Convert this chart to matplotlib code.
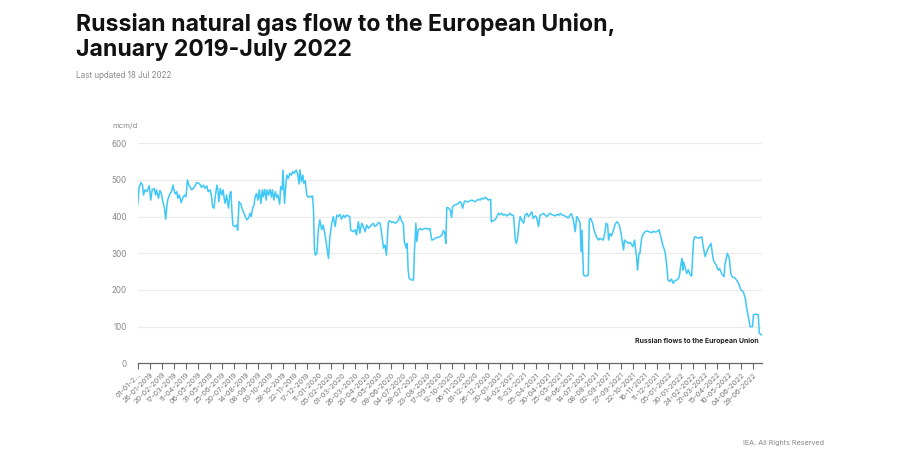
import pandas as pd
import matplotlib
matplotlib.use("Agg")
import matplotlib.pyplot as plt

plt.rcParams["font.family"] = ["Inter", "DejaVu Sans"]

title = "Russian natural gas flow to the European Union,\nJanuary 2019-July 2022"
subtitle = "Last updated 18 Jul 2022"
unit = "mcm/d"
series_name = "Russian flows to the European Union"
credit = "IEA. All Rights Reserved"

start = pd.Timestamp("2019-01-01")

# days since 1 Jan 2019 and flow (mcm/d)
days = [
    0, 3, 7, 10, 12, 15, 19, 22, 24, 27, 30, 34, 37, 39, 43, 46, 49, 52, 55, 58,
    61, 63, 67, 70, 73, 75, 78, 81, 83, 86, 90, 93, 97, 100, 103, 106, 108, 112, 115, 119,
    122, 126, 129, 132, 136, 139, 143, 146, 150, 153, 155, 158, 161, 164, 166, 168, 171, 174, 177, 179,
    181, 184, 188, 191, 193, 195, 197, 201, 205, 207, 210, 214, 217, 220, 223, 226, 229, 233, 235, 238,
    241, 243, 246, 249, 252, 255, 258, 260, 263, 266, 268, 271, 274, 277, 279, 282, 285, 288, 290, 294,
    296, 299, 301, 304, 307, 309, 312, 315, 318, 321, 324, 328, 331, 334, 336, 339, 342, 344, 347, 350,
    353, 357, 360, 362, 364, 366, 368, 371, 374, 377,
    381, 384, 388, 391, 395, 398, 402, 405, 409, 412, 415, 419, 422, 426, 429, 433, 439, 441, 445, 450,
    453, 457, 460, 464, 467, 471, 474, 478, 481, 484, 488, 491, 495, 498, 502, 505, 509, 512, 515, 519,
    522, 526, 529, 533, 536, 540, 543, 547, 550, 552, 556, 558, 560, 562, 567, 571, 573, 576, 578, 581,
    585, 588, 592, 595, 598,
    602, 605, 609, 613, 616, 620, 626, 630, 633, 636, 638, 640, 644, 647, 650, 652, 657, 661, 664, 667,
    670, 673, 676, 678, 682, 685, 689, 692, 696, 699, 702, 705, 709, 712, 716, 719, 723, 726, 729, 731,
    732, 736, 740, 743, 747, 750, 754, 757, 761, 764, 768, 771, 774, 778, 780, 782, 784, 786, 790, 792,
    795, 799, 802, 806, 809, 812, 816, 819, 823, 826, 830, 833, 837, 840, 844, 847, 851, 854, 858, 861,
    865, 868, 872, 875, 878, 881, 885, 888, 891, 895, 898, 902, 906, 909, 912, 916, 918, 920, 923, 927,
    930, 933, 935, 938, 942, 945, 948, 950, 954, 957, 961, 964, 967, 970, 973, 975, 978, 981, 985, 988,
    991, 993, 997, 1001, 1004, 1006, 1008, 1011, 1014, 1016, 1020, 1025, 1029, 1031, 1033, 1035, 1038,
    1040, 1042, 1044, 1048, 1051, 1055, 1058, 1061, 1064, 1068, 1071, 1075, 1080, 1082, 1084, 1087, 1090, 1092, 1095, 1098,
    1102, 1105, 1109, 1112, 1116, 1120, 1122, 1124, 1127, 1129, 1130, 1133, 1137, 1140, 1144, 1147, 1151, 1154, 1158, 1161,
    1165, 1168, 1171, 1175, 1178, 1183, 1187, 1189, 1192, 1195, 1198, 1202, 1205, 1209, 1214, 1216, 1218, 1221, 1225, 1228,
    1231, 1237, 1241, 1244, 1249, 1254, 1258, 1261, 1265, 1268, 1273, 1275, 1279, 1285, 1287, 1292,
]
flow = [
    432, 480, 493, 486, 459, 473, 468, 477, 484, 445, 473, 477, 459, 473, 450, 471, 463, 441, 427, 393,
    436, 450, 463, 468, 486, 473, 462, 468, 450, 459, 438, 450, 459, 454, 500, 486, 482, 473, 477, 484,
    493, 491, 488, 480, 486, 477, 484, 468, 473, 454, 427, 423, 459, 486, 473, 441, 477, 459, 473, 450,
    436, 459, 423, 463, 468, 418, 377, 373, 377, 363, 441, 432, 418, 409, 400, 391, 395, 409, 400, 423,
    432, 454, 463, 445, 473, 436, 473, 454, 474, 445, 473, 459, 474, 453, 473, 445, 468, 453, 459, 434,
    482, 473, 527, 436, 491, 513, 504, 518, 513, 523, 518, 527, 518, 489, 527, 495, 513, 491, 498, 459,
    453, 456, 453, 456, 418, 309, 295, 300, 363, 391,
    364, 377, 350, 323, 286, 345, 382, 400, 373, 404, 400, 406, 393, 404, 398, 404, 400, 364, 359, 364,
    350, 386, 355, 382, 373, 359, 377, 368, 373, 377, 382, 373, 377, 384, 382, 355, 314, 323, 295, 386,
    389, 384, 386, 382, 384, 391, 402, 386, 382, 332, 314, 327, 254, 232, 227, 227, 304, 382, 332, 364,
    368, 364, 366, 368, 368,
    365, 368, 336, 338, 341, 343, 345, 350, 362, 355, 327, 425, 423, 418, 398, 427, 432, 434, 436, 441,
    437, 423, 440, 443, 440, 441, 444, 445, 442, 441, 444, 447, 445, 450, 448, 453, 449, 445, 447, 447,
    386, 389, 391, 398, 409, 405, 409, 404, 406, 402, 405, 409, 404, 404, 373, 335, 327, 336, 382, 400,
    391, 382, 404, 409, 400, 405, 413, 395, 402, 398, 373, 404, 406, 409, 404, 400, 406, 409, 405, 404,
    402, 406, 404, 409, 405, 404, 401, 400, 396, 404, 408, 391, 359, 400, 395, 382, 304, 363, 241, 238,
    238, 241, 391, 395, 382, 363, 352, 345, 336, 341, 338, 336, 355, 382, 378, 336, 354, 347, 363, 377,
    384, 386, 377, 354, 327, 309, 336, 332, 330, 327, 330, 318, 336, 309, 291, 254, 300,
    300, 327, 345, 355, 359, 361, 359, 358, 356, 360, 358, 359, 364, 350, 341, 323, 312, 304, 273, 227,
    223, 230, 218, 225, 227, 232, 241, 263, 286, 254, 277, 264, 245, 255, 241, 238, 336, 345, 343, 341,
    343, 345, 318, 291, 304, 318, 327, 309, 282, 273, 268, 254, 258, 245, 236, 270, 282, 300, 286, 245,
    236, 232, 225, 218, 200, 195, 177, 150, 123, 100, 100, 132, 134, 132, 82, 77,
]

yticks = [0, 100, 200, 300, 400, 500, 600]
tick_dates = pd.date_range(start, periods=52, freq="25D")
tick_labels = [d.strftime("%d-%m-%Y") for d in tick_dates]
tick_labels[0] = "01-01-2..."

dates = start + pd.to_timedelta(days, unit="D")

fig = plt.figure(figsize=(9, 4.5), dpi=100)
ax = fig.add_axes([0.153, 0.1927, 0.6933, 0.4889])

for y in yticks[1:]:
    ax.axhline(y, color="#ebebeb", lw=0.9, zorder=0)
ax.plot(dates, flow, color="#3fc8f7", lw=1.1, zorder=2)

ax.set_ylim(0, 600)
ax.set_xlim(start, start + pd.Timedelta(days=1292))
ax.set_yticks(yticks)
ax.set_xticks(tick_dates)
ax.set_xticklabels(tick_labels, rotation=45, ha="right", rotation_mode="anchor")

for s in ["top", "right", "left"]:
    ax.spines[s].set_visible(False)
ax.spines["bottom"].set_color("#666666")
ax.spines["bottom"].set_linewidth(0.9)
ax.tick_params(axis="x", length=4, width=0.8, color="#666666", labelsize=5.3,
               labelcolor="#777777", pad=2)
ax.tick_params(axis="y", length=0, labelsize=5.8, labelcolor="#888888", pad=8)

fig.text(0.8425, 1 - 341 / 450, series_name, ha="right", va="center",
         fontsize=5, fontweight="bold", color="#222222")

fig.text(76 / 900, 1 - 13 / 450, title, ha="left", va="top", fontsize=16.6,
         fontweight="bold", color="#111111", linespacing=1.2)
fig.text(76 / 900, 1 - 76 / 450, subtitle, ha="left", va="center",
         fontsize=5.8, color="#888888")
fig.text(112 / 900, 1 - 126 / 450, unit, ha="left", va="center",
         fontsize=5.5, color="#888888")
fig.text(743 / 900, 1 - 443 / 450, credit, ha="left", va="center",
         fontsize=5.2, color="#888888")

fig.savefig("out.png", dpi=100, facecolor="white")
